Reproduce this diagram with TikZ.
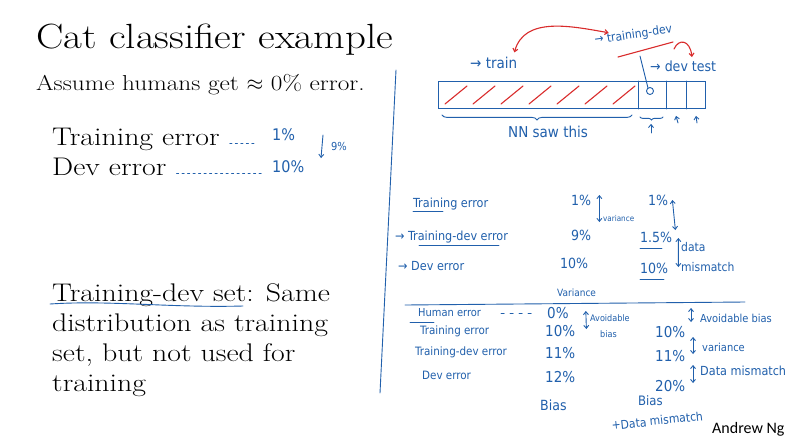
\documentclass[tikz,border=0pt]{standalone}
\usepackage{fix-cm}
\usepackage{fontspec}
\setmainfont{Latin Modern Roman}[FakeStretch=1.17]
\newfontfamily\hand{DejaVu Sans Condensed}
\newfontfamily\sign{Carlito}
\definecolor{ink}{HTML}{2160AC}
\definecolor{redink}{HTML}{D92B2B}
\usetikzlibrary{positioning,arrows.meta,calc,decorations.pathreplacing}

\begin{document}
\begin{tikzpicture}[x=1pt,y=-1pt,
    every node/.style={inner sep=0pt,anchor=base west},
    slide/.style={font=\fontsize{25.5}{30}\selectfont},
    hw/.style={text=ink,font=\hand\fontsize{#1}{#1}\selectfont},
    hw/.default=11,
    pen/.style={draw=ink,line width=0.9pt,line cap=round},
    redpen/.style={draw=redink,line width=1.1pt,line cap=round},
    tip/.style={-{Straight Barb[length=3pt,width=5pt]}},
    tips/.style={{Straight Barb[length=3pt,width=5pt]}-{Straight Barb[length=3pt,width=5pt]}}]

  \useasboundingbox[fill=white] (0,0) rectangle (801,445);

  % slide text
  \node[font=\fontsize{35}{40}\selectfont] (title) at (36,48) {Cat classifier example};
  \node[font=\fontsize{21.6}{26}\selectfont] (assume) at (36,90) {Assume humans get $\approx$ 0\% error.};
  \node[slide] (trerr) at (52,145) {Training error};
  \node[slide] (deverr) at (52,175) {Dev error};
  \node[slide,anchor=north west,align=left] (tdset) at (52,283)
    {Training-dev set: Same\\distribution as training\\set, but not used for\\training};
  \node[font=\sign\fontsize{16}{18}\selectfont] (author) at (712,433) {Andrew Ng};

  % hand notes, left column
  \draw[pen,dash pattern=on 2pt off 3.5pt] ($(trerr.base east)+(10,-2)$) -- ++(26,0);
  \node[hw=16] (trval) at (272,140) {1\%};
  \draw[pen,dash pattern=on 2pt off 3.5pt] ($(deverr.base east)+(10,-2)$) -- ++(85,0);
  \node[hw=16] (dvval) at (272,172) {10\%};
  \node[hw=11] (gap) at (331,150) {9\%};
  \draw[pen,tip] ($(gap.base west)+(-8,-15)$) -- ($(gap.base west)+(-10,8)$);
  \draw[pen] (50,304) .. controls (110,300) and (170,308) .. (243,306);
  \draw[pen] (396,70) -- (380,393);

  % data split bar
  \node[draw=ink,line width=0.9pt,minimum width=267pt,minimum height=27pt,anchor=north west] (bar) at (438,81) {};
  \foreach \dx in {200,228,248}
    \draw[pen] ($(bar.north west)+(\dx,0)$) -- ($(bar.south west)+(\dx,0)$);
  \foreach \hx in {445,473,...,613}
    \draw[redpen] (\hx,104) -- (\hx+22,86);
  \draw[pen,decorate,decoration={brace,mirror,amplitude=5pt}] ($(bar.south west)+(4,6)$) -- ($(bar.south west)+(194,6)$);
  \node[hw=15] (nnsaw) at (508,137) {NN saw this};
  \draw[pen,decorate,decoration={brace,mirror,amplitude=3pt}] ($(bar.south west)+(202,8)$) -- ($(bar.south west)+(225,8)$);
  \draw[pen,tip] ($(bar.south west)+(213,24)$) -- ($(bar.south west)+(213,15)$);
  \draw[pen,tip] ($(bar.south west)+(240,14)$) -- ($(bar.south west)+(238,7)$);
  \draw[pen,tip] ($(bar.south west)+(259,14)$) -- ($(bar.south west)+(258,7)$);

  \node[hw=15] (train) at (470,68) {→ train};
  \node[hw=12,rotate=8] (tdev) at (595,44) {→ training-dev};
  \node[hw=14] (devtest) at (650,71) {→ dev test};
  \coordinate (pick) at (648,88);
  \draw[redpen] (618,57) -- (673,42);
  \draw[pen] (640,56) -- (pick);
  \draw[pen] ($(pick)+(2,3)$) circle (3.5pt);
  \draw[redpen,tips] ($(train.north east)+(-3,-4)$) to[out=75,in=170] ($(tdev.west)+(14,-8)$);
  \draw[redpen,tip] (674,49) .. controls (679,38) and (690,40) .. (692,57);

  % middle table
  \node[hw=12.5] (mtr) at (413,207) {Training error};
  \node[hw=14] (mtrA) at (571,205) {1\%};
  \node[hw=14] (mtrB) at (648,205) {1\%};
  \node[hw=12.5] (mtd) at (395,240) {→ Training-dev error};
  \node[hw=14] (mtdA) at (571,240) {9\%};
  \node[hw=14] (mtdB) at (640,242) {1.5\%};
  \node[hw=12.5] (mdv) at (398,270) {→ Dev error};
  \node[hw=14] (mdvA) at (560,268) {10\%};
  \node[hw=14] (mdvB) at (640,273) {10\%};
  \node[hw=8] (mvar) at (603,221) {variance};
  \node[hw=12] (mdata) at (681,251) {data};
  \node[hw=12] (mmis) at (681,271) {mismatch};
  \node[hw=10] (mvar2) at (557,296) {Variance};
  \draw[pen,tips] ($(mtrA.base east)+(8,-10)$) -- ($(mtdA.base east)+(8,-18)$);
  \draw[pen,tips] ($(mtrB.base east)+(4,-5)$) -- ($(mtdB.base east)+(3,-12)$);
  \draw[pen,tips] ($(mtdB.base east)+(6,-4)$) -- ($(mdvB.base east)+(10,-6)$);
  \draw[pen] ($(mtr.base west)+(0,4)$) -- ++(30,0);
  \draw[pen] ($(mtd.base west)+(24,5)$) -- ++(80,0);
  \draw[pen] ($(mtdB.base west)+(0,6)$) -- ++(22,0);
  \draw[pen] ($(mdvB.base west)+(0,6)$) -- ++(24,0);
  \draw[pen] (405,305) -- (745,302);

  % lower table
  \node[hw=11] (lhu) at (418,316) {Human error};
  \draw[pen,dash pattern=on 3pt off 6pt] ($(lhu.base east)+(20,-3)$) -- ++(31,0);
  \node[hw=15] (lhuA) at (547,318) {0\%};
  \node[hw=11.5] (ltr) at (420,334) {Training error};
  \node[hw=15] (ltrA) at (545,336) {10\%};
  \node[hw=15] (ltrB) at (655,337) {10\%};
  \node[hw=11.5] (ltd) at (415,355) {Training-dev error};
  \node[hw=15] (ltdA) at (545,358) {11\%};
  \node[hw=15] (ltdB) at (655,361) {11\%};
  \node[hw=11.5] (ldv) at (422,379) {Dev error};
  \node[hw=15] (ldvA) at (545,382) {12\%};
  \node[hw=15] (ldvB) at (655,391) {20\%};
  \node[hw=14] (lbiasA) at (540,410) {Bias};
  \node[hw=13] (lbiasB) at (638,405) {Bias};
  \node[hw=12,rotate=6] (ldm) at (612,430) {+Data mismatch};
  \node[hw=9] (lavA) at (590,321) {Avoidable};
  \node[hw=9] (lbA) at (600,337) {bias};
  \draw[pen,tips] ($(lhuA.base east)+(17,-7)$) -- ($(ltrA.base east)+(11,-7)$);
  \draw[pen] ($(lhu.base west)+(-8,6)$) -- ++(24,0);
  \node[hw=11] (lavB) at (700,322) {Avoidable bias};
  \node[hw=11] (lvarB) at (702,351) {variance};
  \node[hw=12.5] (ldmB) at (700,375) {Data mismatch};
  \draw[pen,tips] ($(lavB.base west)+(-9,-14)$) -- ($(lavB.base west)+(-9,0)$);
  \draw[pen,tips] ($(lvarB.base west)+(-9,-14)$) -- ($(lvarB.base west)+(-9,3)$);
  \draw[pen,tips] ($(ldmB.base west)+(-7,-10)$) -- ($(ldmB.base west)+(-7,8)$);
\end{tikzpicture}
\end{document}
